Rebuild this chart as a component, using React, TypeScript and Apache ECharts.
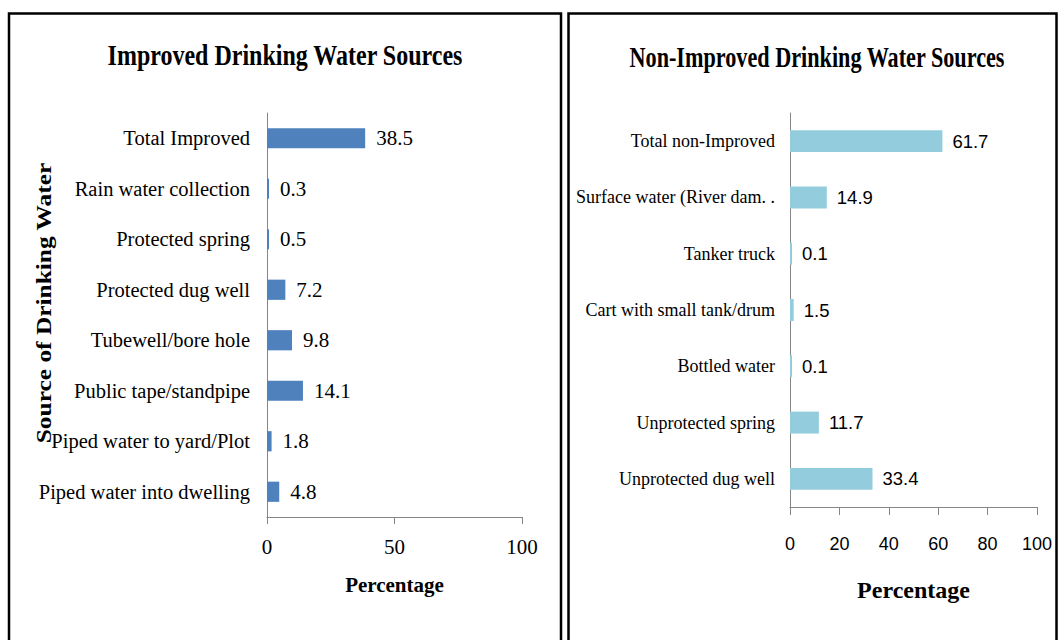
import React, { useEffect, useRef } from "react";
import * as echarts from "echarts";

const improvedCategories = [
  "Total Improved",
  "Rain water collection",
  "Protected spring",
  "Protected dug well",
  "Tubewell/bore hole",
  "Public tape/standpipe",
  "Piped water to yard/Plot",
  "Piped water into dwelling",
];
const improvedValues = [38.5, 0.3, 0.5, 7.2, 9.8, 14.1, 1.8, 4.8];

const nonImprovedCategories = [
  "Total non-Improved",
  "Surface water (River dam. .",
  "Tanker truck",
  "Cart with small tank/drum",
  "Bottled water",
  "Unprotected spring",
  "Unprotected dug well",
];
const nonImprovedValues = [61.7, 14.9, 0.1, 1.5, 0.1, 11.7, 33.4];

const leftTitle = "Improved Drinking Water Sources";
const rightTitle = "Non-Improved Drinking Water Sources";
const yAxisName = "Source of Drinking Water";
const xAxisName = "Percentage";

const SERIF = "'Liberation Serif', 'Times New Roman', serif";
const SANS = "'Liberation Sans', Arial, sans-serif";
const AXIS_GRAY = "#868686";

export default function App() {
  const ref = useRef<HTMLDivElement>(null);

  useEffect(() => {
    if (!ref.current) return;
    const chart = echarts.init(ref.current, undefined, { renderer: "svg" });
    const option = {
      animation: false,
      backgroundColor: "#ffffff",
      grid: [
        { left: 267, top: 113, width: 255, height: 404, containLabel: false },
        { left: 790, top: 113, width: 247, height: 394, containLabel: false },
      ],
      xAxis: [
        {
          gridIndex: 0,
          type: "value",
          min: 0,
          max: 100,
          interval: 50,
          splitLine: { show: false },
          axisLine: { show: true, lineStyle: { color: AXIS_GRAY, width: 1 } },
          axisTick: { show: true, length: 7, lineStyle: { color: AXIS_GRAY } },
          axisLabel: { margin: 19, fontFamily: SERIF, fontSize: 21, color: "#000" },
          name: xAxisName,
          nameLocation: "middle",
          nameGap: 57,
          nameTextStyle: { fontFamily: SERIF, fontSize: 21, fontWeight: "bold", color: "#000" },
        },
        {
          gridIndex: 1,
          type: "value",
          min: 0,
          max: 100,
          interval: 20,
          splitLine: { show: false },
          axisLine: { show: true, lineStyle: { color: AXIS_GRAY, width: 1 } },
          axisTick: { show: true, length: 8, lineStyle: { color: AXIS_GRAY } },
          axisLabel: { margin: 28, fontFamily: SANS, fontSize: 18, color: "#000" },
          name: xAxisName,
          nameLocation: "middle",
          nameGap: 71,
          nameTextStyle: { fontFamily: SERIF, fontSize: 24, fontWeight: "bold", color: "#000" },
        },
      ],
      yAxis: [
        {
          gridIndex: 0,
          type: "category",
          inverse: true,
          data: improvedCategories,
          axisLine: { show: true, lineStyle: { color: AXIS_GRAY, width: 1 } },
          axisTick: { show: false },
          axisLabel: { margin: 17, fontFamily: SERIF, fontSize: 20.5, color: "#000" },
        },
        {
          gridIndex: 1,
          type: "category",
          inverse: true,
          data: nonImprovedCategories,
          axisLine: { show: true, lineStyle: { color: AXIS_GRAY, width: 1 } },
          axisTick: { show: false },
          axisLabel: { margin: 15, fontFamily: SERIF, fontSize: 18, color: "#000" },
        },
      ],
      series: [
        {
          type: "bar",
          xAxisIndex: 0,
          yAxisIndex: 0,
          data: improvedValues,
          barWidth: "40%",
          barMinHeight: 2,
          itemStyle: { color: "#4F81BD" },
          label: {
            show: true,
            position: "right",
            distance: 11,
            fontFamily: SERIF,
            fontSize: 21,
            color: "#000",
          },
        },
        {
          type: "bar",
          xAxisIndex: 1,
          yAxisIndex: 1,
          data: nonImprovedValues,
          barWidth: "39%",
          barMinHeight: 2,
          itemStyle: { color: "#93CDDD" },
          label: {
            show: true,
            position: "right",
            distance: 10,
            fontFamily: SANS,
            fontSize: 18.5,
            color: "#000",
          },
        },
      ],
      graphic: [
        {
          type: "rect",
          shape: { x: 9, y: 13.5, width: 552, height: 700 },
          style: { fill: "none", stroke: "#000", lineWidth: 2.5 },
          silent: true,
        },
        {
          type: "rect",
          shape: { x: 568.5, y: 13.5, width: 488, height: 700 },
          style: { fill: "none", stroke: "#000", lineWidth: 2.5 },
          silent: true,
        },
        {
          type: "text",
          x: 285,
          y: 55,
          scaleX: 0.8,
          style: {
            text: leftTitle,
            font: `bold 30px ${SERIF}`,
            fill: "#000",
            align: "center",
            verticalAlign: "middle",
          },
        },
        {
          type: "text",
          x: 817,
          y: 57,
          scaleX: 0.74,
          style: {
            text: rightTitle,
            font: `bold 30px ${SERIF}`,
            fill: "#000",
            align: "center",
            verticalAlign: "middle",
          },
        },
        {
          type: "text",
          x: 44,
          y: 303,
          rotation: Math.PI / 2,
          scaleX: 1.27,
          style: {
            text: yAxisName,
            font: `bold 20px ${SERIF}`,
            fill: "#000",
            align: "center",
            verticalAlign: "middle",
          },
        },
      ],
    };
    chart.setOption(option as any);
    return () => chart.dispose();
  }, []);

  return (
    <div
      ref={ref}
      style={{ position: "absolute", left: 0, top: 0, width: 1059, height: 640 }}
    />
  );
}
